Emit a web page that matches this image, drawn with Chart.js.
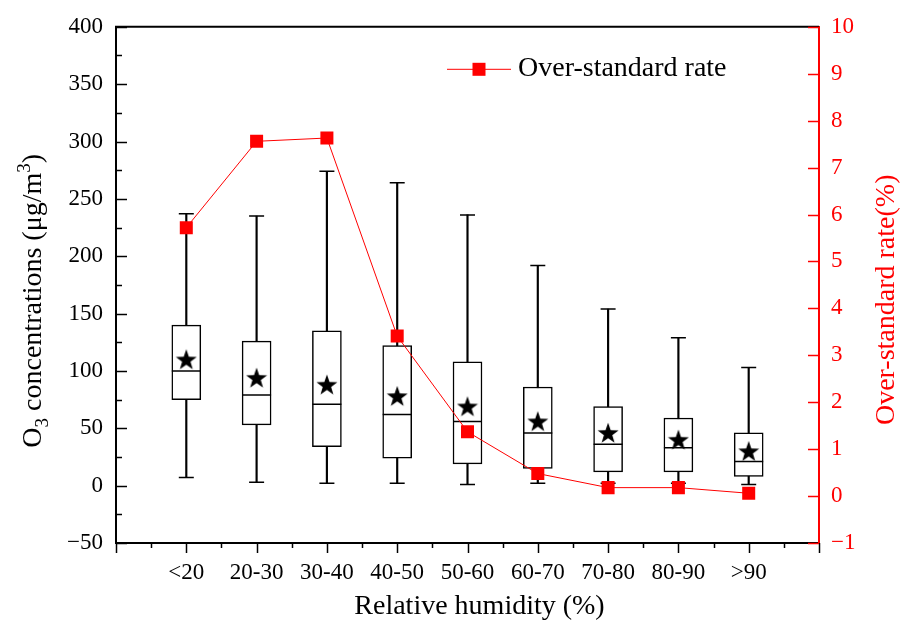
<!DOCTYPE html>
<html>
<head>
<meta charset="utf-8">
<script src="https://cdn.jsdelivr.net/npm/chart.js@4/dist/chart.umd.min.js"></script>
<style>
  html, body { margin: 0; padding: 0; background: #fff; }
  #wrap { width: 901px; height: 621px; }
</style>
</head>
<body>
<div id="wrap"><canvas id="c" width="901" height="621"></canvas></div>
<script>
// ---- data ----
const categories  = ['<20', '20-30', '30-40', '40-50', '50-60', '60-70', '70-80', '80-90', '>90'];
const whiskerLow  = [7, 3, 2, 2, 1, 2, 2, 2, 1];
const q1          = [75, 53, 34, 24, 19, 15, 12, 12, 8];
const median      = [100, 79, 71, 62, 56, 46, 36, 33, 21];
const q3          = [140, 126, 135, 122, 108, 86, 69, 59, 46];
const whiskerHigh = [237, 235, 274, 264, 236, 192, 154, 129, 103];
const mean        = [110, 94, 88, 78, 69, 56, 46, 40, 30];
const overRate    = [5.72, 7.56, 7.63, 3.41, 1.37, 0.48, 0.18, 0.18, 0.06];
const leftTicks   = [-50, 0, 50, 100, 150, 200, 250, 300, 350, 400];
const rightTicks  = [-1, 0, 1, 2, 3, 4, 5, 6, 7, 8, 9, 10];

const FONT = "'Liberation Serif', 'Times New Roman', serif";
const RED = '#ff0000';

// star image for the mean marker
function makeStar(size) {
  const cv = document.createElement('canvas');
  cv.width = size; cv.height = size;
  const g = cv.getContext('2d');
  const cx = size / 2, cy = size / 2 + 0.8, R = size / 2, r = R * 0.4;
  g.beginPath();
  for (let i = 0; i < 10; i++) {
    const rad = (i % 2 === 0) ? R : r;
    const a = -Math.PI / 2 + i * Math.PI / 5;
    const px = cx + rad * Math.cos(a), py = cy + rad * Math.sin(a);
    if (i === 0) g.moveTo(px, py); else g.lineTo(px, py);
  }
  g.closePath();
  g.fillStyle = '#000';
  g.fill();
  return cv;
}
const starImg = makeStar(22);

const pos = categories.map((_, i) => i + 1);
const pts = (arr) => arr.map((v, i) => ({ x: pos[i], y: v }));

const decoPlugin = {
  id: 'deco',
  afterDraw(chart) {
    const { ctx, chartArea: ca, scales } = chart;
    const x = scales.x, y = scales.y, y2 = scales.y2;
    ctx.save();
    // top border
    ctx.strokeStyle = '#000'; ctx.lineWidth = 2;
    ctx.beginPath(); ctx.moveTo(ca.left - 1, ca.top); ctx.lineTo(ca.right, ca.top); ctx.stroke();
    // left ticks (inward)
    ctx.lineWidth = 1.5;
    for (let v = -50; v <= 400; v += 25) {
      const py = Math.round(y.getPixelForValue(v)) + 0.5;
      const len = (v % 50 === 0) ? 11 : 6;
      ctx.beginPath(); ctx.moveTo(ca.left, py); ctx.lineTo(ca.left + len, py); ctx.stroke();
    }
    // bottom ticks (outward)
    for (let v = 0; v <= 10; v += 0.5) {
      const px = Math.round(x.getPixelForValue(v)) + 0.5;
      const len = (v % 1 === 0) ? 10 : 5;
      ctx.beginPath(); ctx.moveTo(px, ca.bottom); ctx.lineTo(px, ca.bottom + len); ctx.stroke();
    }
    // right ticks (inward, red)
    ctx.strokeStyle = RED;
    for (const v of rightTicks) {
      const py = Math.round(y2.getPixelForValue(v)) + 0.5;
      ctx.beginPath(); ctx.moveTo(ca.right, py); ctx.lineTo(ca.right - 11, py); ctx.stroke();
    }
    // x title
    ctx.fillStyle = '#000';
    ctx.font = '28px ' + FONT;
    ctx.textAlign = 'center'; ctx.textBaseline = 'middle';
    ctx.fillText('Relative humidity (%)', (ca.left + ca.right) / 2 + 12, ca.bottom + 64);
    // left title with sub/superscript
    const parts = [
      { t: 'O', s: 28, dy: 0 },
      { t: '3', s: 19, dy: 7 },
      { t: ' concentrations (\u03bcg/m', s: 28, dy: 0 },
      { t: '3', s: 19, dy: -11 },
      { t: ')', s: 28, dy: 0 }
    ];
    let total = 0;
    for (const p of parts) { ctx.font = p.s + 'px ' + FONT; p.w = ctx.measureText(p.t).width; total += p.w; }
    ctx.save();
    ctx.translate(ca.left - 84, ca.top + 274);
    ctx.rotate(-Math.PI / 2);
    ctx.textAlign = 'left'; ctx.textBaseline = 'alphabetic';
    let cx = -total / 2;
    for (const p of parts) {
      ctx.font = p.s + 'px ' + FONT;
      ctx.fillText(p.t, cx, 9 + p.dy);
      cx += p.w;
    }
    ctx.restore();
    // right title
    ctx.save();
    ctx.fillStyle = RED;
    ctx.font = '28px ' + FONT;
    ctx.translate(ca.right + 68, ca.top + 273);
    ctx.rotate(-Math.PI / 2);
    ctx.textAlign = 'center'; ctx.textBaseline = 'middle';
    ctx.fillText('Over-standard rate(%)', 0, 0);
    ctx.restore();
    // legend
    const ly = ca.top + 42;
    const lx = ca.left + 331;
    ctx.strokeStyle = RED; ctx.lineWidth = 1;
    ctx.beginPath(); ctx.moveTo(lx, ly + 0.5); ctx.lineTo(lx + 64, ly + 0.5); ctx.stroke();
    ctx.fillStyle = RED;
    ctx.fillRect(lx + 32 - 6.5, ly - 6, 13, 13);
    ctx.fillStyle = '#000';
    ctx.font = '28px ' + FONT;
    ctx.textAlign = 'left'; ctx.textBaseline = 'middle';
    ctx.fillText('Over-standard rate', lx + 71, ly);
    ctx.restore();
  }
};

new Chart(document.getElementById('c'), {
  type: 'bar',
  data: {
    datasets: [
      { type: 'bar', label: 'whisker', data: whiskerLow.map((v, i) => ({ x: pos[i], y: [v, whiskerHigh[i]] })),
        backgroundColor: '#000', borderWidth: 0, barThickness: 1.5, grouped: false, order: 6 },
      { type: 'bar', label: 'box', data: q1.map((v, i) => ({ x: pos[i], y: [v, q3[i]] })),
        backgroundColor: '#fff', borderColor: '#000', borderWidth: 1.5, borderSkipped: false,
        barThickness: 29, grouped: false, order: 5 },
      { type: 'line', label: 'median', data: pts(median), showLine: false,
        pointStyle: 'line', pointRadius: 14.5, pointBorderWidth: 1.5, pointBorderColor: '#000', order: 4 },
      { type: 'line', label: 'capLow', data: pts(whiskerLow), showLine: false,
        pointStyle: 'line', pointRadius: 7.5, pointBorderWidth: 1.5, pointBorderColor: '#000', order: 3 },
      { type: 'line', label: 'capHigh', data: pts(whiskerHigh), showLine: false,
        pointStyle: 'line', pointRadius: 7.5, pointBorderWidth: 1.5, pointBorderColor: '#000', order: 3 },
      { type: 'line', label: 'mean', data: pts(mean), showLine: false,
        pointStyle: starImg, pointRadius: 11, order: 2 },
      { type: 'line', label: 'Over-standard rate', data: pts(overRate), yAxisID: 'y2',
        borderColor: RED, borderWidth: 1, backgroundColor: RED, pointStyle: 'rect',
        pointRadius: 9.2, pointBorderWidth: 0, pointBackgroundColor: RED, tension: 0, order: 1 }
    ]
  },
  options: {
    responsive: false,
    animation: false,
    events: [],
    layout: { padding: { top: 24, left: 0, right: 0, bottom: 0 } },
    plugins: { legend: { display: false }, tooltip: { enabled: false } },
    scales: {
      x: {
        type: 'linear', min: 0, max: 10, offset: false,
        grid: { display: false, drawTicks: false },
        border: { display: true, color: '#000', width: 2 },
        ticks: {
          stepSize: 1, autoSkip: false, maxRotation: 0, padding: 16,
          color: '#000', font: { family: FONT, size: 23 },
          callback: (v) => (v >= 1 && v <= 9 && Number.isInteger(v)) ? categories[v - 1] : ''
        },
        afterFit: (s) => { s.height = 78; }
      },
      y: {
        position: 'left', min: -50, max: 400,
        grid: { display: false, drawTicks: false },
        border: { display: true, color: '#000', width: 2 },
        ticks: { stepSize: 50, padding: 13, color: '#000', font: { family: FONT, size: 23 },
          callback: (v) => leftTicks.includes(v) ? (v < 0 ? '\u2212' + Math.abs(v) : String(v)) : '' },
        afterFit: (s) => { s.width = 116; }
      },
      y2: {
        position: 'right', min: -1, max: 10,
        grid: { display: false, drawTicks: false },
        border: { display: true, color: RED, width: 2 },
        ticks: { stepSize: 1, padding: 12, color: RED, font: { family: FONT, size: 23 },
          callback: (v) => rightTicks.includes(v) ? (v < 0 ? '\u2212' + Math.abs(v) : String(v)) : '' },
        afterFit: (s) => { s.width = 82; }
      }
    }
  },
  plugins: [decoPlugin]
});
</script>
</body>
</html>
